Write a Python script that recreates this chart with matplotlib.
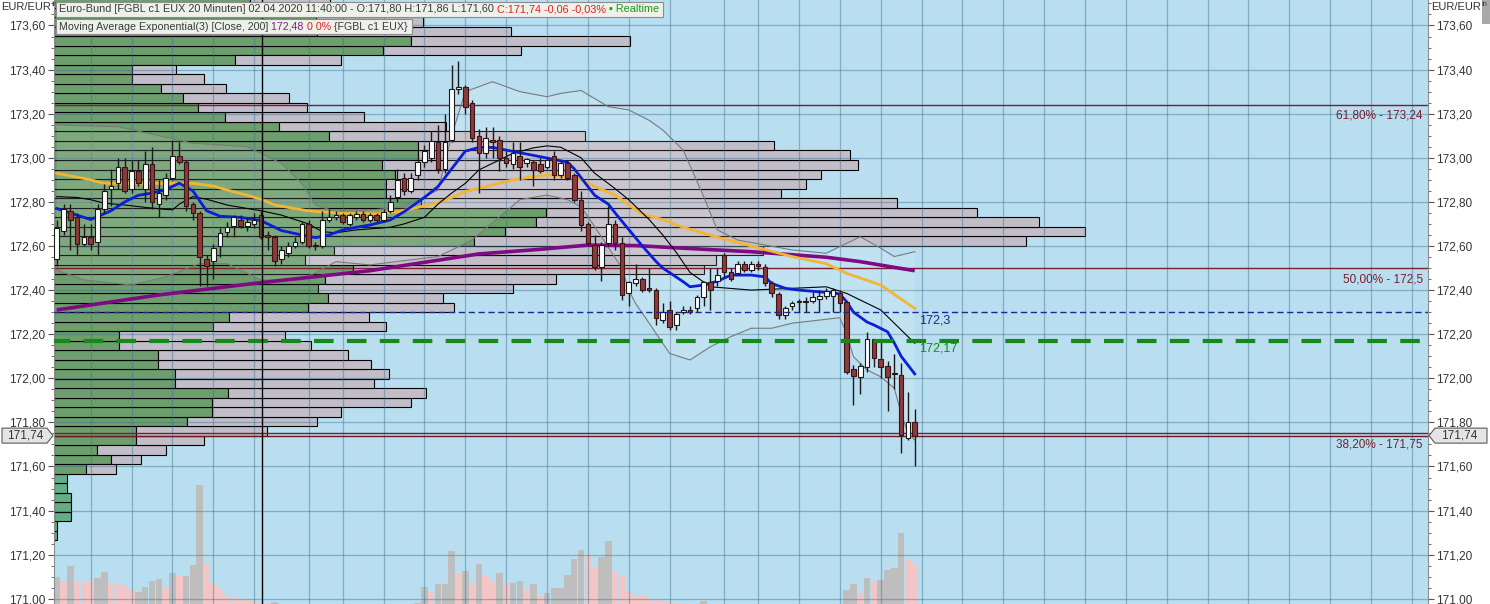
import numpy as np
import matplotlib
matplotlib.use("Agg")
import matplotlib.pyplot as plt
from matplotlib.patches import Rectangle, Polygon
from matplotlib.ticker import MultipleLocator, FuncFormatter

plt.rcParams['font.family'] = ['Liberation Sans', 'DejaVu Sans']

# Euro-Bund FGBL c1, 20 minute candles
candle_open = [172.54, 172.67, 172.76, 172.73, 172.61, 172.64, 172.62, 172.77, 172.86, 172.885,
               172.96, 172.86, 172.94, 172.86, 172.97, 172.79, 172.83, 172.91, 173.01, 172.98,
               172.79, 172.75, 172.54, 172.53, 172.60, 172.665, 172.69, 172.72, 172.69, 172.70,
               172.74, 172.65, 172.64, 172.54, 172.57, 172.60, 172.62, 172.70, 172.60, 172.60,
               172.72, 172.73, 172.74, 172.70, 172.73, 172.745, 172.72, 172.74, 172.72, 172.76,
               172.82, 172.91, 172.85, 172.92, 172.98, 173.00, 173.07, 172.95, 173.08, 173.31,
               173.32, 173.25, 173.10, 173.02, 173.08, 173.08, 173.00, 172.97, 173.01, 172.975,
               172.98, 172.97, 172.96, 173.01, 172.92, 172.975, 172.92, 172.81, 172.70, 172.605,
               172.506, 172.612, 172.70, 172.615, 172.385, 172.43, 172.45, 172.41, 172.40, 172.264,
               172.31, 172.24, 172.30, 172.31, 172.318, 172.37, 172.438, 172.44, 172.559, 172.483,
               172.476, 172.52, 172.49, 172.52, 172.506, 172.43, 172.382, 172.287, 172.33, 172.345,
               172.345, 172.35, 172.36, 172.373, 172.375, 172.385, 172.347, 172.04, 172.006, 172.053,
               172.178, 172.088, 172.056, 172.02, 172.015, 171.731, 171.80]
candle_high = [172.72, 172.79, 172.79, 172.75, 172.70, 172.70, 172.79, 172.88, 172.95, 173.00,
               173.00, 172.99, 172.99, 173.03, 173.05, 172.90, 172.93, 173.08, 173.07, 172.99,
               172.80, 172.76, 172.56, 172.61, 172.68, 172.71, 172.74, 172.74, 172.73, 172.75,
               172.76, 172.67, 172.65, 172.60, 172.62, 172.64, 172.71, 172.72, 172.62, 172.76,
               172.77, 172.76, 172.75, 172.75, 172.76, 172.76, 172.75, 172.75, 172.77, 172.83,
               172.95, 172.93, 172.93, 173.00, 173.06, 173.12, 173.15, 173.20, 173.42, 173.44,
               173.33, 173.26, 173.13, 173.14, 173.14, 173.10, 173.03, 173.07, 173.07, 173.00,
               172.99, 173.00, 173.00, 173.03, 172.99, 172.99, 172.93, 172.85, 172.71, 172.65,
               172.62, 172.78, 172.72, 172.64, 172.44, 172.52, 172.46, 172.50, 172.41, 172.34,
               172.35, 172.30, 172.33, 172.33, 172.38, 172.44, 172.50, 172.50, 172.57, 172.50,
               172.53, 172.53, 172.53, 172.53, 172.52, 172.44, 172.39, 172.33, 172.35, 172.36,
               172.37, 172.39, 172.40, 172.41, 172.41, 172.40, 172.35, 172.06, 172.07, 172.21,
               172.18, 172.17, 172.08, 172.11, 172.07, 171.94, 171.86]
candle_low = [172.51, 172.65, 172.58, 172.56, 172.60, 172.58, 172.56, 172.75, 172.78, 172.86,
              172.84, 172.84, 172.87, 172.80, 172.77, 172.73, 172.81, 172.90, 172.97, 172.76,
              172.72, 172.42, 172.42, 172.45, 172.55, 172.64, 172.64, 172.68, 172.67, 172.68,
              172.63, 172.58, 172.51, 172.52, 172.55, 172.59, 172.61, 172.59, 172.58, 172.59,
              172.71, 172.72, 172.70, 172.69, 172.72, 172.71, 172.71, 172.71, 172.71, 172.75,
              172.80, 172.83, 172.84, 172.90, 172.96, 172.98, 172.93, 172.93, 173.07, 173.29,
              173.20, 173.07, 172.84, 173.00, 173.00, 172.94, 172.96, 172.95, 172.90, 172.96,
              172.87, 172.93, 172.95, 172.90, 172.91, 172.90, 172.80, 172.67, 172.60, 172.49,
              172.44, 172.60, 172.58, 172.355, 172.33, 172.42, 172.39, 172.39, 172.24, 172.25,
              172.22, 172.22, 172.29, 172.29, 172.30, 172.33, 172.31, 172.42, 172.46, 172.44,
              172.47, 172.48, 172.48, 172.49, 172.42, 172.37, 172.27, 172.27, 172.31, 172.30,
              172.30, 172.34, 172.30, 172.36, 172.30, 172.30, 172.02, 171.88, 171.93, 172.03,
              172.05, 172.00, 171.85, 171.95, 171.66, 171.72, 171.60]
candle_close = [172.68, 172.77, 172.72, 172.61, 172.64, 172.61, 172.77, 172.85, 172.87, 172.96,
                172.85, 172.94, 172.885, 172.97, 172.80, 172.84, 172.91, 173.01, 172.98, 172.78,
                172.75, 172.55, 172.51, 172.59, 172.66, 172.685, 172.73, 172.69, 172.71, 172.72,
                172.64, 172.64, 172.53, 172.58, 172.60, 172.62, 172.70, 172.60, 172.60, 172.72,
                172.73, 172.74, 172.71, 172.74, 172.745, 172.72, 172.74, 172.72, 172.755, 172.80,
                172.90, 172.85, 172.91, 172.98, 173.03, 173.076, 172.95, 173.07, 173.31, 173.32,
                173.23, 173.09, 173.02, 173.09, 173.07, 173.00, 172.975, 173.02, 172.96, 172.993,
                172.945, 172.94, 172.99, 172.92, 172.975, 172.91, 172.81, 172.695, 172.612, 172.506,
                172.605, 172.70, 172.612, 172.38, 172.438, 172.45, 172.40, 172.40, 172.272, 172.30,
                172.234, 172.29, 172.31, 172.30, 172.37, 172.438, 172.40, 172.47, 172.483, 172.45,
                172.52, 172.49, 172.52, 172.51, 172.43, 172.386, 172.287, 172.32, 172.34, 172.345,
                172.35, 172.37, 172.375, 172.396, 172.40, 172.34, 172.03, 172.01, 172.056, 172.177,
                172.09, 172.053, 172.006, 172.02, 171.743, 171.803, 171.74]

# volume histogram (two colours as drawn)
volume_grey = [27, 0, 38, 0, 0, 0, 26, 32, 0, 0, 0, 0, 12, 17, 23, 25, 0, 31, 0, 28,
               39, 119, 0, 0, 0, 0, 0, 0, 0, 0, 0, 0, 2, 0, 0, 0, 0, 0, 0, 0,
               0, 0, 0, 0, 0, 0, 0, 0, 0, 0, 0, 0, 0, 1, 17, 0, 20, 20, 53, 0,
               33, 0, 40, 0, 0, 31, 0, 21, 23, 0, 20, 0, 11, 16, 16, 29, 45, 54, 0, 0,
               47, 63, 0, 0, 0, 0, 0, 0, 0, 0, 0, 0, 0, 0, 0, 3, 0, 0, 0, 0,
               0, 0, 0, 0, 0, 0, 0, 0, 0, 0, 0, 0, 0, 0, 0, 0, 14, 20, 0, 26,
               0, 24, 34, 36, 71, 0, 0]
volume_pink = [0, 22, 0, 22, 22, 22, 0, 0, 21, 20, 18, 15, 0, 0, 0, 0, 17, 0, 28, 0,
               0, 0, 41, 21, 14, 9, 7, 4, 4, 2, 1, 1, 0, 0, 0, 0, 0, 0, 0, 0,
               0, 0, 0, 0, 0, 0, 0, 0, 0, 0, 0, 0, 0, 0, 0, 12, 0, 0, 0, 31,
               0, 21, 0, 28, 22, 0, 21, 0, 0, 14, 0, 8, 0, 0, 0, 0, 0, 0, 49, 37,
               0, 0, 32, 28, 12, 9, 8, 6, 4, 3, 2, 1, 1, 0, 0, 0, 0, 0, 0, 0,
               0, 0, 0, 0, 0, 0, 0, 0, 0, 0, 0, 0, 0, 0, 0, 0, 0, 0, 11, 0,
               22, 0, 0, 0, 0, 44, 40]

# volume profile rows (bottom to top)
profile_low = 171.266
profile_step = 0.0431
profile_green = [3, 3, 17, 17, 17, 13, 13, 32, 57, 43, 82, 82, 133, 158, 158, 174, 121, 121, 104, 104,
                 65, 65, 159, 175, 254, 274, 264, 271, 299, 251, 280, 420, 451, 482, 492, 367, 332, 332, 341, 328,
                 364, 364, 275, 225, 171, 144, 129, 107, 78, 78, 181, 329, 357, 263, 262, 246, 196]
profile_grey = [0, 0, 0, 0, 0, 0, 0, 30, 30, 69, 68, 131, 130, 129, 199, 198, 199, 214, 213, 190,
                192, 166, 173, 140, 146, 115, 195, 231, 351, 411, 429, 552, 580, 503, 431, 476, 395, 420, 426, 476,
                432, 356, 256, 167, 139, 109, 106, 65, 72, 44, 106, 138, 219, 194, 107, 80, 80]

# indicator lines (candle index, price)
blue_at = [0, 3, 5, 8, 10, 12, 14, 16, 18, 20, 22, 24, 27, 30, 33, 36, 38, 40, 42, 44,
           46, 49, 51, 54, 56, 57, 59, 60, 62, 64, 66, 68, 71, 73, 75, 76, 78, 79, 81, 82,
           84, 86, 88, 89, 92, 93, 95, 97, 99, 102, 104, 105, 107, 109, 112, 114, 115, 116, 117, 119,
           120, 122, 123, 124, 126]
blue_val = [172.77, 172.74, 172.72, 172.76, 172.80, 172.83, 172.84, 172.855, 172.885, 172.85,
            172.76, 172.735, 172.73, 172.715, 172.67, 172.65, 172.638, 172.65, 172.673, 172.685,
            172.695, 172.718, 172.755, 172.82, 172.87, 172.91, 172.99, 173.03, 173.047, 173.047,
            173.035, 173.023, 173.005, 172.993, 172.98, 172.95, 172.87, 172.83, 172.79, 172.75,
            172.675, 172.60, 172.53, 172.50, 172.438, 172.415, 172.423, 172.44, 172.468, 172.468,
            172.46, 172.43, 172.408, 172.40, 172.392, 172.388, 172.382, 172.347, 172.30, 172.255,
            172.242, 172.211, 172.16, 172.10, 172.02]
orange_at = [0, 5, 7, 20, 23, 25, 28, 30, 32, 37, 42, 47, 50, 53, 56, 58, 60, 62, 67, 70,
             72, 74, 77, 79, 82, 84, 86, 89, 92, 97, 102, 108, 113, 116, 121, 126]
orange_val = [172.93, 172.90, 172.884, 172.884, 172.872, 172.854, 172.83, 172.812, 172.786, 172.759,
              172.748, 172.746, 172.755, 172.775, 172.796, 172.82, 172.847, 172.862, 172.90, 172.914,
              172.922, 172.918, 172.90, 172.87, 172.831, 172.786, 172.745, 172.72, 172.685, 172.64,
              172.60, 172.552, 172.52, 172.476, 172.423, 172.317]
purple_at = [0, 15, 30, 46, 62, 71, 78, 85, 92, 102, 113, 118, 123, 126]
purple_val = [172.31, 172.378, 172.434, 172.488, 172.564, 172.585, 172.604, 172.602, 172.59, 172.574,
              172.549, 172.529, 172.503, 172.488]
black_at = [0, 3, 5, 7, 10, 13, 16, 17, 18, 20, 22, 25, 28, 30, 33, 37, 39, 41, 44, 47,
            49, 51, 54, 56, 58, 60, 62, 65, 67, 70, 72, 74, 77, 79, 82, 84, 87, 89, 91, 93,
            96, 102, 108, 113, 116, 121, 126]
black_val = [172.824, 172.82, 172.81, 172.794, 172.786, 172.775, 172.766, 172.764, 172.79, 172.824,
             172.812, 172.786, 172.77, 172.76, 172.74, 172.70, 172.665, 172.66, 172.673, 172.68,
             172.685, 172.70, 172.73, 172.79, 172.84, 172.884, 172.945, 172.99, 173.02, 173.045,
             173.054, 173.048, 173.0, 172.93, 172.86, 172.81, 172.72, 172.65, 172.57, 172.48,
             172.415, 172.40, 172.408, 172.415, 172.385, 172.31, 172.159]
upper_at = [0, 9, 20, 28, 33, 36, 38, 41, 46, 51, 56, 58, 60, 64, 68, 72, 74, 77, 81, 84,
            87, 89, 92, 95, 97, 100, 108, 113, 116, 118, 121, 123, 126]
upper_val = [173.149, 173.141, 173.066, 173.05, 172.975, 172.884, 172.786, 172.756, 172.763, 172.778,
             172.854, 173.10, 173.30, 173.345, 173.30, 173.277, 173.292, 173.305, 173.232, 173.217,
             173.17, 173.126, 173.035, 172.824, 172.673, 172.627, 172.582, 172.567, 172.612, 172.642,
             172.59, 172.552, 172.574]
lower_at = [0, 4, 11, 16, 21, 25, 30, 36, 41, 46, 50, 56, 61, 68, 72, 75, 77, 79, 83, 84,
            85, 87, 90, 93, 96, 99, 102, 105, 108, 112, 115, 116, 117, 119, 121, 123, 124, 125, 126]
lower_val = [172.491, 172.446, 172.423, 172.46, 172.52, 172.52, 172.446, 172.446, 172.529, 172.514,
             172.53, 172.552, 172.627, 172.81, 172.831, 172.81, 172.778, 172.688, 172.50, 172.40,
             172.34, 172.25, 172.113, 172.083, 172.143, 172.189, 172.227, 172.227, 172.25, 172.264,
             172.275, 172.204, 172.098, 172.038, 172.007, 171.955, 171.841, 171.75, 171.72]

fib_levels = [173.24, 172.5, 171.75]
fib_labels = ['61,80% - 173,24', '50,00% - 172,5', '38,20% - 171,75']
last_price = 171.74
blue_level = 172.30
green_level = 172.17

W, H = 1490, 604
Y_TOP, Y_BOT = 173.7156, 170.9764
X_LEFT, X_RIGHT = -0.396, 201.37

fig = plt.figure(figsize=(W / 100, H / 100), dpi=100, facecolor='white')
rect = [54 / W, 0, (1428 - 54) / W, 1]


def bare(a):
    a.set_xticks([])
    a.set_yticks([])
    for s in a.spines.values():
        s.set_visible(False)


# background + volume profile
ax_bg = fig.add_axes(rect, zorder=0)
ax_bg.set_facecolor('#b8def0')
ax_bg.set_xlim(0, 1374)
ax_bg.set_ylim(Y_BOT, Y_TOP)
bare(ax_bg)

pg = np.array(profile_green, float)
pr = np.array(profile_grey, float)
rows = profile_low + profile_step * np.arange(len(pg))
gcol = ['#6d9e6d' if g > 0 else '#64ae86' for g in pr]
ax_bg.barh(rows, pg, height=profile_step, align='edge', color=gcol, edgecolor='black', linewidth=0.8)
m = pr > 0
ax_bg.barh(rows[m], pr[m], left=pg[m], height=profile_step, align='edge',
           color='#c1bec9', edgecolor='black', linewidth=0.8)

# volume histogram
ax_vol = fig.add_axes(rect, zorder=1)
ax_vol.set_facecolor('none')
ax_vol.set_xlim(X_LEFT, X_RIGHT)
ax_vol.set_ylim(0, 604)
bare(ax_vol)
idx = np.arange(len(candle_open))
ax_vol.bar(idx, volume_pink, width=0.95, color='#f2c6c6', linewidth=0)
ax_vol.bar(idx, volume_grey, width=0.95, color='#bebebe', linewidth=0)

# main price axes
ax = fig.add_axes(rect, zorder=2)
ax.set_facecolor('none')
ax.set_xlim(X_LEFT, X_RIGHT)
ax.set_ylim(Y_BOT, Y_TOP)

grid_at = [5, 11, 17, 23, 29, 37, 42, 48, 54, 60, 66, 72, 78, 84, 90, 98, 103, 109, 115, 121] + list(range(127, 202, 6))
for g in grid_at:
    ax.axvline(g, color='#3d6f8f', alpha=0.45, lw=0.9, zorder=0.5)
for v in np.arange(171.0, 173.61, 0.2):
    ax.axhline(v, color='#3d6f8f', alpha=0.45, lw=0.9, zorder=0.5)

# bollinger envelope
ax.fill(np.r_[upper_at, lower_at[::-1]], np.r_[upper_val, lower_val[::-1]],
        color='white', alpha=0.12, lw=0, zorder=1)
ax.plot(upper_at, upper_val, color='#7a7a7a', lw=0.8, zorder=2)
ax.plot(lower_at, lower_val, color='#7a7a7a', lw=0.8, zorder=2)

# levels
for lv, lb in zip(fib_levels, fib_labels):
    ax.axhline(lv, color='#7a1f2b', lw=1, zorder=1.5)
    ax.text(200.6, lv - 0.05, lb, ha='right', va='center', color='#7a1f2b', fontsize=8.5, zorder=6)
ax.axhline(last_price, color='#6a1a22', lw=1, zorder=1.5)

# moving averages
ax.plot(purple_at, purple_val, color='#7e0a84', lw=2.6, zorder=3, solid_capstyle='butt')
ax.plot(orange_at, orange_val, color='#f2b535', lw=2, zorder=3)
ax.plot(black_at, black_val, color='black', lw=0.8, zorder=3)
ax.plot(blue_at, blue_val, color='#0b1fd8', lw=2, zorder=3.2)

# candles
o = np.array(candle_open)
c = np.array(candle_close)
up = c >= o
ax.vlines(idx, candle_low, candle_high, color='#1a1a1a', lw=1, zorder=4)
body_lo = np.minimum(o, c)
body_h = np.maximum(np.abs(c - o), 0.004)
ax.bar(idx, body_h, bottom=body_lo, width=0.68,
       color=np.where(up, 'white', '#8c3a3a'), edgecolor=np.where(up, '#1a1a1a', '#3a1515'),
       linewidth=0.8, zorder=4.5)

# horizontal marker lines
ax.axhline(blue_level, color='#1a2a8c', lw=1, ls=(0, (4.5, 2.6)), zorder=5)
ax.axhline(green_level, color='#17891a', lw=3, ls=(0.8, (4.7, 3.2)), zorder=5)
ax.text(126.7, blue_level - 0.04, '172,3', color='#1a2a8c', fontsize=9, va='center', ha='left', zorder=6)
ax.text(126.7, green_level - 0.037, '172,17', color='#17891a', fontsize=9, va='center', ha='left', zorder=6)

ax.axvline(30.15, color='black', lw=1, zorder=6)

# axes styling
ax.set_xticks([])
ax.yaxis.set_major_locator(MultipleLocator(0.2))
ax.yaxis.set_minor_locator(MultipleLocator(0.05))
ax.yaxis.set_major_formatter(FuncFormatter(lambda v, p: f'{v:.2f}'.replace('.', ',')))
ax.tick_params(axis='y', which='both', left=True, right=True, labelleft=True, labelright=True,
               direction='out', color='#555555', labelcolor='#333333', labelsize=8.5)
ax.tick_params(axis='y', which='major', length=4, pad=2)
ax.tick_params(axis='y', which='minor', length=2.5)
for s in ['top', 'bottom']:
    ax.spines[s].set_visible(False)
for s in ['left', 'right']:
    ax.spines[s].set_color('#8c8c8c')

# last price boxes
yf = (last_price - Y_BOT) / (Y_TOP - Y_BOT)
yp = yf * H
lab = f'{last_price:.2f}'.replace('.', ',')
left_box = [(2, yp - 7.5), (47, yp - 7.5), (53, yp), (47, yp + 7.5), (2, yp + 7.5)]
right_box = [(1429, yp), (1435, yp - 7.5), (1487, yp - 7.5), (1487, yp + 7.5), (1435, yp + 7.5)]
for pts, tx in [(left_box, 25), (right_box, 1459)]:
    fig.add_artist(Polygon([(px / W, py / H) for px, py in pts], closed=True, transform=fig.transFigure,
                           facecolor='#e4e4e4', edgecolor='#5a5a5a', lw=0.8, zorder=10))
    fig.text(tx / W, yf, lab, ha='center', va='center', fontsize=8.5, color='#333333', zorder=11)

# header legends
renderer = fig.canvas.get_renderer()


def header(x0, ytop, parts, size):
    x = x0 + 3
    yc = ytop + 7.5
    for s, col in parts:
        t = fig.text(x / W, 1 - yc / H, s, color=col, fontsize=size, va='center', ha='left', zorder=11)
        x += t.get_window_extent(renderer).width
    fig.add_artist(Rectangle((x0 / W, 1 - (ytop + 15) / H), (x - x0 + 4) / W, 15 / H,
                             transform=fig.transFigure, facecolor='#eef1ea', edgecolor='#8c8c8c',
                             lw=0.8, zorder=10))


header(56, 2, [('Euro-Bund [FGBL c1 EUX 20 Minuten] 02.04.2020 11:40:00 - O:171,80 H:171,86 L:171,60', '#3a3a3a'),
               (' C:171,74 -0,06 -0,03%', '#e0201c'), (' \u25aa Realtime', '#1a9a1a')], 7.8)
header(56, 19, [('Moving Average Exponential(3) [Close, 200]', '#3a3a3a'), (' 172,48', '#8a1a8a'),
                (' 0 0%', '#e0201c'), (' {FGBL c1 EUX}', '#3a3a3a')], 7.7)

for x0 in (1, 1431):
    t = fig.text(x0 / W, 1 - 7 / H, 'EUR/EUR', fontsize=8, color='#333333', va='center', ha='left')
    wd = t.get_window_extent(renderer).width
    fig.text((x0 + wd + 1) / W, 1 - 4 / H, 'In', fontsize=5, color='#333333', va='center', ha='left')

fig.add_artist(Rectangle((1482 / W, 1 - 24 / H), 8 / W, 24 / H, transform=fig.transFigure,
                         facecolor='#a9a9a9', edgecolor='none'))

fig.savefig('out.png', dpi=100)
